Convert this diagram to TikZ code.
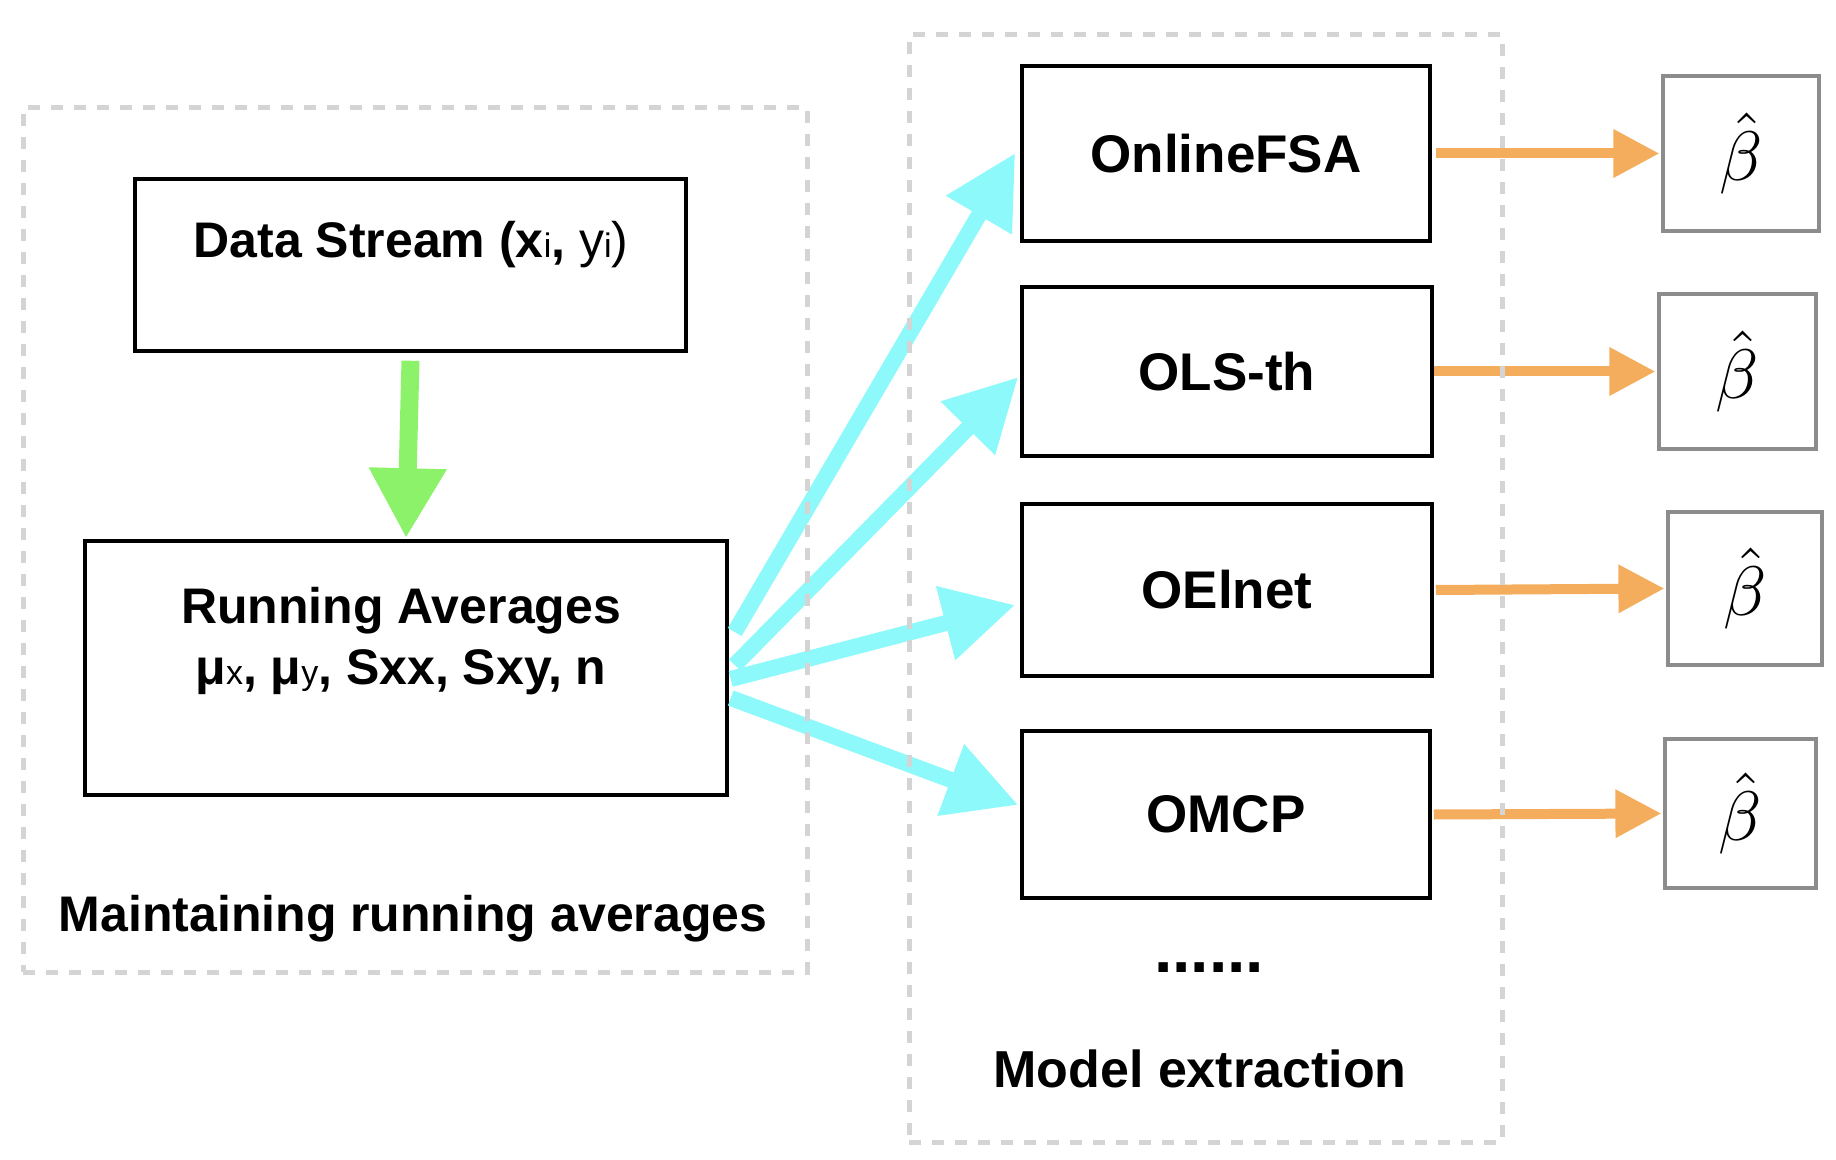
\documentclass[tikz,border=0pt]{standalone}
\usepackage{graphicx}
\usepackage{fontspec}
\setmainfont{Liberation Sans}
\usetikzlibrary{arrows.meta}
\definecolor{grpgray}{HTML}{D4D4D4}
\definecolor{flowgreen}{HTML}{8BF26A}
\definecolor{flowcyan}{HTML}{8DF9FA}
\definecolor{floworange}{HTML}{F4AD5C}
\definecolor{betagray}{HTML}{8C8C8C}
\newcommand\smreg[1]{{\fontseries{m}\fontsize{17}{20}\selectfont #1}}
\newcommand\regw[1]{{\fontseries{m}\selectfont #1}}
\newcommand\betahat{\scalebox{3.5}{$\hat{\beta}$}}
\begin{document}
\begin{tikzpicture}[x=0.5pt,y=-0.5pt,
  procbox/.style={draw=black,line width=1.75pt,inner sep=0pt,font=\bfseries\fontsize{26.5}{30}\selectfont},
  leftbox/.style={draw=black,line width=1.75pt,inner sep=0pt},
  lefttxt/.style={font=\bfseries\fontsize{25}{30}\selectfont,inner sep=0pt,anchor=base},
  grouptxt/.style={font=\bfseries\fontsize{26}{30}\selectfont,inner sep=0pt,anchor=base},
  betabox/.style={draw=betagray,line width=1.6pt,inner sep=0pt},
  grpbox/.style={draw=grpgray,line width=2.5pt,dash pattern=on 6pt off 5.5pt,inner sep=0pt},
  greenarrow/.style={draw=flowgreen,line width=9pt,-{Triangle[length=35pt,width=36.5pt]}},
  cyanarrow/.style={draw=flowcyan,line width=8pt,-{Triangle[length=36pt,width=36pt]}},
  orangearrow/.style={draw=floworange,line width=5pt,-{Triangle[length=23pt,width=23pt]}}
]
\useasboundingbox (0,0) rectangle (1836,1160);

% left side
\node[leftbox,minimum width=275.5pt,minimum height=86pt] (ds) at (410.5,265) {};
\node[lefttxt] (dstxt) at (411,258) {Data Stream (x\smreg{i}, \regw{y}\smreg{i}\regw{)}};
\node[leftbox,minimum width=321pt,minimum height=127pt] (ra) at (406,668) {};
\node[lefttxt] (ratxt1) at (401,623) {Running Averages};
\node[lefttxt] (ratxt2) at (401,684) {μ\smreg{x}, μ\smreg{y}, Sxx, Sxy, n};
\node[grouptxt,font=\bfseries\fontsize{25}{30}\selectfont] (lefttitle) at (413,931) {Maintaining running averages};

% right side
\node[procbox,minimum width=204pt,minimum height=87.5pt] (ofsa) at (1226,153.5) {OnlineFSA};
\node[procbox,minimum width=205pt,minimum height=84.5pt] (ols) at (1227,371.5) {OLS-th};
\node[procbox,minimum width=205pt,minimum height=86pt] (oel) at (1227,590) {OElnet};
\node[procbox,minimum width=204pt,minimum height=83.5pt] (omcp) at (1226,814.5) {OMCP};
\node[grouptxt,font=\bfseries\fontsize{33}{36}\selectfont] (dots) at (1209,972) {......};
\node[grouptxt] (righttitle) at (1200,1087) {Model extraction};

% beta boxes
\node[betabox,minimum width=78pt,minimum height=77.5pt] (b1) at (1741,153.5) {\betahat};
\node[betabox,minimum width=78.5pt,minimum height=77.5pt] (b2) at (1737.5,371.5) {\betahat};
\node[betabox,minimum width=77pt,minimum height=76.5pt] (b3) at (1745,588.5) {\betahat};
\node[betabox,minimum width=75.5pt,minimum height=74.5pt] (b4) at (1740.5,813.5) {\betahat};

% arrows
\draw[greenarrow] ([yshift=-4pt]ds.south) -- ([yshift=0.5pt]ra.north);
\draw[cyanarrow] ([xshift=3pt,yshift=18pt]ra.east) -- ([xshift=-2.5pt,yshift=0.25pt]ofsa.west);
\draw[cyanarrow] ([xshift=3pt,yshift=1.5pt]ra.east) -- ([xshift=-1pt,yshift=-2.75pt]ols.west);
\draw[cyanarrow] ([xshift=1pt,yshift=-5.5pt]ra.east) -- ([xshift=-2.5pt,yshift=-7.5pt]oel.west);
\draw[cyanarrow] ([xshift=1pt,yshift=-15pt]ra.east) -- ([xshift=-1pt,yshift=4.75pt]omcp.west);
\draw[orangearrow] ([xshift=2pt]ofsa.east) -- ([xshift=-1pt]b1.west);
\draw[orangearrow] ([xshift=0pt]ols.east) -- ([xshift=-1pt]b2.west);
\draw[orangearrow] ([xshift=1pt]oel.east) -- ([xshift=-1pt]b3.west);
\draw[orangearrow] ([xshift=1pt]omcp.east) -- ([xshift=-1pt]b4.west);

% group boxes
\node[grpbox,minimum width=392pt,minimum height=432pt] (leftgrp) at (415,540) {};
\node[grpbox,minimum width=296.5pt,minimum height=553.5pt] (rightgrp) at (1205.5,588.5) {};
\end{tikzpicture}
\end{document}
